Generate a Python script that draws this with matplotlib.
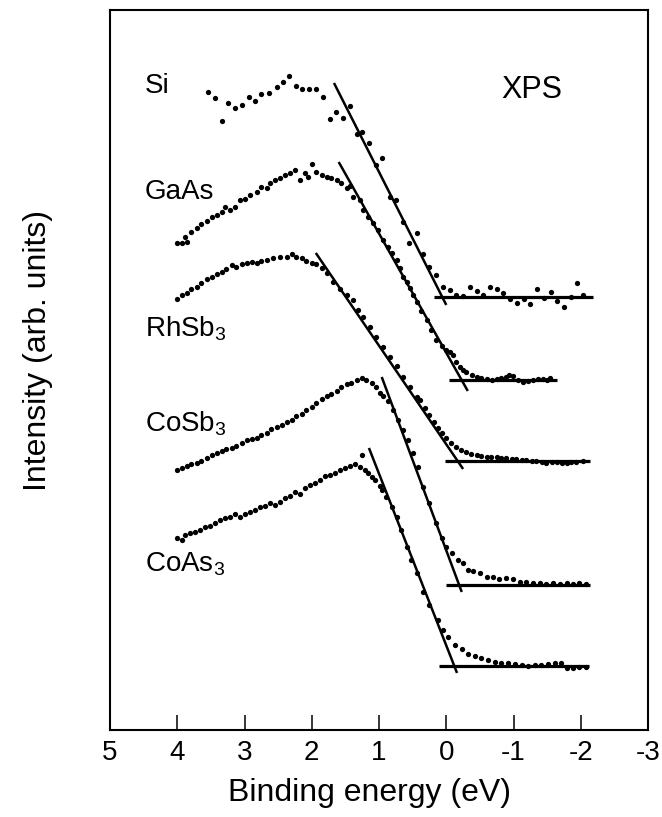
import numpy as np
import matplotlib
matplotlib.use("Agg")
import matplotlib.pyplot as plt

plt.rcParams['font.family'] = ['Liberation Sans', 'DejaVu Sans']
plt.rcParams['mathtext.fontset'] = 'custom'
plt.rcParams['mathtext.rm'] = 'Liberation Sans'
plt.rcParams['mathtext.it'] = 'Liberation Sans'

# ---- data (binding energy in eV, intensity in arb. units) ----
si_e = [3.54, 3.44, 3.34, 3.24, 3.14, 3.04, 2.93, 2.84, 2.75, 2.64, 2.52, 2.43, 2.34, 2.24,
        2.14, 2.04, 1.94, 1.84, 1.73, 1.64, 1.53, 1.43, 1.33, 1.25, 1.15, 1.04, 0.95, 0.84,
        0.75, 0.64, 0.55, 0.44, 0.34, 0.25, 0.15, 0.05, -0.05, -0.15, -0.25, -0.35, -0.45,
        -0.55, -0.65, -0.75, -0.84, -0.95, -1.05, -1.15, -1.25, -1.35, -1.45, -1.55, -1.65,
        -1.75, -1.85, -1.94, -2.04]
si_i = [6.38, 6.32, 6.09, 6.27, 6.22, 6.25, 6.33, 6.29, 6.36, 6.37, 6.43, 6.48, 6.54, 6.44,
        6.41, 6.41, 6.41, 6.33, 6.11, 6.18, 6.12, 6.24, 5.96, 5.98, 5.87, 5.65, 5.72, 5.33,
        5.30, 5.08, 4.87, 4.97, 4.76, 4.63, 4.55, 4.43, 4.40, 4.35, 4.34, 4.43, 4.39,
        4.35, 4.43, 4.41, 4.37, 4.31, 4.27, 4.31, 4.26, 4.41, 4.32, 4.38, 4.29,
        4.23, 4.33, 4.47, 4.35]

gaas_e = [4.01, 3.93, 3.89, 3.85, 3.79, 3.71, 3.64, 3.56, 3.49, 3.41, 3.34, 3.29, 3.22, 3.14,
          3.07, 2.99, 2.92, 2.82, 2.75, 2.67, 2.62, 2.55, 2.47, 2.40, 2.33, 2.25, 2.18, 2.10,
          2.05, 1.99, 1.93, 1.85, 1.78, 1.71, 1.63, 1.56, 1.48, 1.43, 1.38, 1.29, 1.24, 1.16,
          1.09, 1.01, 0.94, 0.86, 0.81, 0.74, 0.69, 0.64, 0.59, 0.54, 0.49, 0.44, 0.37, 0.29,
          0.22, 0.15, 0.07, 0.00, -0.05, -0.10, -0.15, -0.20, -0.25, -0.30, -0.38, -0.45,
          -0.52, -0.60, -0.68, -0.75, -0.82, -0.89, -0.94, -0.99, -1.07, -1.14, -1.21, -1.29,
          -1.36, -1.44, -1.50, -1.54]
gaas_i = [4.87, 4.87, 4.93, 4.88, 4.98, 5.02, 5.06, 5.09, 5.13, 5.15, 5.18, 5.23, 5.20, 5.23,
          5.30, 5.31, 5.35, 5.38, 5.43, 5.42, 5.47, 5.50, 5.52, 5.55, 5.57, 5.60, 5.50, 5.57,
          5.53, 5.66, 5.58, 5.55, 5.53, 5.52, 5.50, 5.47, 5.42, 5.44, 5.33, 5.30, 5.20, 5.13,
          5.07, 5.00, 4.90, 4.83, 4.77, 4.70, 4.62, 4.53, 4.48, 4.42, 4.35, 4.28, 4.19, 4.10,
          4.00, 3.90, 3.84, 3.80, 3.78, 3.75, 3.68, 3.63, 3.60, 3.58, 3.55, 3.53,
          3.52, 3.51, 3.50, 3.51, 3.52, 3.53, 3.55, 3.54, 3.50, 3.48, 3.49, 3.50,
          3.51, 3.51, 3.50, 3.52]

rhsb_e = [4.01, 3.93, 3.86, 3.79, 3.71, 3.64, 3.56, 3.49, 3.41, 3.34, 3.27, 3.19, 3.12, 3.04,
          2.97, 2.89, 2.82, 2.75, 2.67, 2.57, 2.47, 2.37, 2.29, 2.23, 2.15, 2.08, 2.00, 1.93,
          1.85, 1.78, 1.68, 1.58, 1.48, 1.38, 1.31, 1.24, 1.14, 1.04, 0.94, 0.84, 0.74, 0.64,
          0.54, 0.44, 0.39, 0.32, 0.25, 0.18, 0.12, 0.06, 0.00, -0.07, -0.15, -0.22, -0.30,
          -0.37, -0.45, -0.52, -0.60, -0.67, -0.75, -0.82, -0.89, -0.97, -1.04, -1.12, -1.19,
          -1.27, -1.34, -1.42, -1.49, -1.57, -1.64, -1.72, -1.79, -1.86, -1.93, -2.03]
rhsb_i = [4.31, 4.35, 4.37, 4.41, 4.43, 4.47, 4.51, 4.53, 4.56, 4.58, 4.61, 4.65, 4.63, 4.66,
          4.67, 4.68, 4.67, 4.69, 4.70, 4.72, 4.73, 4.73, 4.76, 4.73, 4.72, 4.69, 4.67, 4.66,
          4.62, 4.57, 4.48, 4.41, 4.35, 4.30, 4.20, 4.13, 4.03, 3.93, 3.83, 3.73, 3.64, 3.53,
          3.43, 3.33, 3.30, 3.22, 3.15, 3.08, 3.02, 2.97, 2.92, 2.87, 2.83, 2.80, 2.78,
          2.76, 2.75, 2.74, 2.73, 2.73, 2.73, 2.72, 2.72, 2.71, 2.71, 2.70, 2.70,
          2.69, 2.69, 2.68, 2.67, 2.68, 2.68, 2.67, 2.67, 2.68, 2.68, 2.69]

cosb_e = [4.01, 3.93, 3.86, 3.79, 3.71, 3.64, 3.56, 3.49, 3.41, 3.34, 3.27, 3.19, 3.12, 3.04,
          2.97, 2.89, 2.82, 2.75, 2.67, 2.60, 2.52, 2.45, 2.37, 2.30, 2.23, 2.15, 2.08, 2.00,
          1.93, 1.85, 1.78, 1.71, 1.63, 1.56, 1.48, 1.41, 1.33, 1.26, 1.19, 1.11, 1.04, 0.99,
          0.94, 0.86, 0.79, 0.72, 0.64, 0.57, 0.49, 0.42, 0.34, 0.25, 0.15, 0.07, 0.00, -0.08,
          -0.18, -0.25, -0.32, -0.40, -0.50, -0.60, -0.70, -0.79, -0.89, -0.99, -1.09, -1.19,
          -1.29, -1.39, -1.49, -1.59, -1.69, -1.79, -1.88, -1.98, -2.08]
cosb_i = [2.60, 2.62, 2.64, 2.66, 2.67, 2.69, 2.72, 2.75, 2.77, 2.79, 2.81, 2.82, 2.84, 2.87,
          2.90, 2.91, 2.92, 2.95, 2.97, 3.01, 3.03, 3.05, 3.08, 3.10, 3.14, 3.16, 3.20, 3.23,
          3.27, 3.31, 3.34, 3.36, 3.39, 3.43, 3.46, 3.47, 3.50, 3.52, 3.50, 3.47, 3.43, 3.37,
          3.34, 3.29, 3.20, 3.10, 3.00, 2.90, 2.77, 2.63, 2.43, 2.27, 2.07, 1.92, 1.83, 1.77,
          1.70, 1.67, 1.60, 1.59, 1.57, 1.53, 1.53, 1.51, 1.52, 1.51, 1.48, 1.48,
          1.47, 1.47, 1.46, 1.47, 1.46, 1.47, 1.46, 1.47, 1.46]

coas_e = [4.01, 3.93, 3.89, 3.81, 3.74, 3.66, 3.59, 3.51, 3.44, 3.37, 3.29, 3.22, 3.14, 3.07,
          2.99, 2.92, 2.85, 2.77, 2.70, 2.62, 2.55, 2.47, 2.40, 2.33, 2.25, 2.18, 2.10, 2.03,
          1.95, 1.88, 1.81, 1.73, 1.66, 1.58, 1.51, 1.43, 1.36, 1.29, 1.25, 1.21, 1.16, 1.11,
          1.06, 0.99, 0.96, 0.89, 0.81, 0.74, 0.67, 0.59, 0.52, 0.44, 0.34, 0.25, 0.12, 0.05,
          -0.03, -0.13, -0.23, -0.32, -0.42, -0.52, -0.62, -0.72, -0.82, -0.92, -1.02, -1.12,
          -1.22, -1.32, -1.41, -1.51, -1.61, -1.71, -1.79, -1.88, -1.98, -2.08]
coas_i = [1.92, 1.90, 1.95, 1.97, 1.98, 2.00, 2.03, 2.04, 2.07, 2.10, 2.12, 2.13, 2.16, 2.13,
          2.16, 2.18, 2.20, 2.23, 2.24, 2.27, 2.25, 2.28, 2.32, 2.34, 2.38, 2.36, 2.42, 2.45,
          2.47, 2.50, 2.54, 2.55, 2.57, 2.60, 2.62, 2.64, 2.66, 2.63, 2.75, 2.60, 2.57, 2.53,
          2.50, 2.44, 2.40, 2.33, 2.23, 2.13, 2.00, 1.83, 1.70, 1.57, 1.38, 1.25, 1.10, 1.00,
          0.93, 0.85, 0.81, 0.76, 0.74, 0.72, 0.70, 0.68, 0.67, 0.67, 0.66, 0.65,
          0.64, 0.65, 0.65, 0.66, 0.67, 0.67, 0.62, 0.62, 0.63, 0.63]

# linear band-edge fits (start/end) and background levels (start/end energy, level)
fit_lines = {
    "Si":    ([1.67, 0.00], [6.47, 4.25]),
    "GaAs":  ([1.60, -0.32], [5.68, 3.39]),
    "RhSb3": ([1.94, -0.25], [4.77, 2.61]),
    "CoSb3": ([0.96, -0.23], [3.53, 1.38]),
    "CoAs3": ([1.15, -0.16], [2.82, 0.57]),
}
base_lines = {
    "Si":    ([0.18, -2.18], 4.33),
    "GaAs":  ([-0.04, -1.65], 3.50),
    "RhSb3": ([0.02, -2.13], 2.69),
    "CoSb3": ([0.00, -2.13], 1.45),
    "CoAs3": ([0.11, -2.12], 0.64),
}

labels = ["Si", "GaAs", "RhSb$_3$", "CoSb$_3$", "CoAs$_3$"]
label_y = [6.37, 5.31, 3.93, 2.98, 1.58]

fig = plt.figure(figsize=(6.62, 8.17), dpi=100)
ax = fig.add_axes([0.1662, 0.1065, 0.8127, 0.8813])

for e, i in [(si_e, si_i), (gaas_e, gaas_i), (rhsb_e, rhsb_i), (cosb_e, cosb_i), (coas_e, coas_i)]:
    ax.plot(e, i, 'o', color='black', ms=3.8, mec='black', mew=0)

for k in fit_lines:
    xs, ys = fit_lines[k]
    ax.plot(xs, ys, '-', color='black', lw=1.8, solid_capstyle='butt')
    bx, lvl = base_lines[k]
    ax.plot(bx, [lvl, lvl], '-', color='black', lw=2.3, solid_capstyle='butt')

for lab, y in zip(labels, label_y):
    ax.text(4.48, y, lab, fontsize=20, ha='left', va='baseline')
ax.text(-0.82, 6.32, "XPS", fontsize=22, ha='left', va='baseline')

ax.set_xlim(5, -3)
ax.set_ylim(0, 7.2)
ax.set_xticks([5, 4, 3, 2, 1, 0, -1, -2, -3])
ax.set_xticklabels(["5", "4", "3", "2", "1", "0", "-1", "-2", "-3"])
ax.set_yticks([])
ax.tick_params(axis='x', direction='in', length=11, width=1.1, labelsize=20, pad=7)
for s in ax.spines.values():
    s.set_linewidth(1.5)

ax.set_xlabel("Binding energy (eV)", fontsize=23, labelpad=9)
ax.xaxis.label.set_x(0.483)
fig.text(38 / 662, 1 - 351 / 817, "Intensity (arb. units)", fontsize=23,
         rotation=90, ha='center', va='center')

fig.savefig("out.png", dpi=100)
